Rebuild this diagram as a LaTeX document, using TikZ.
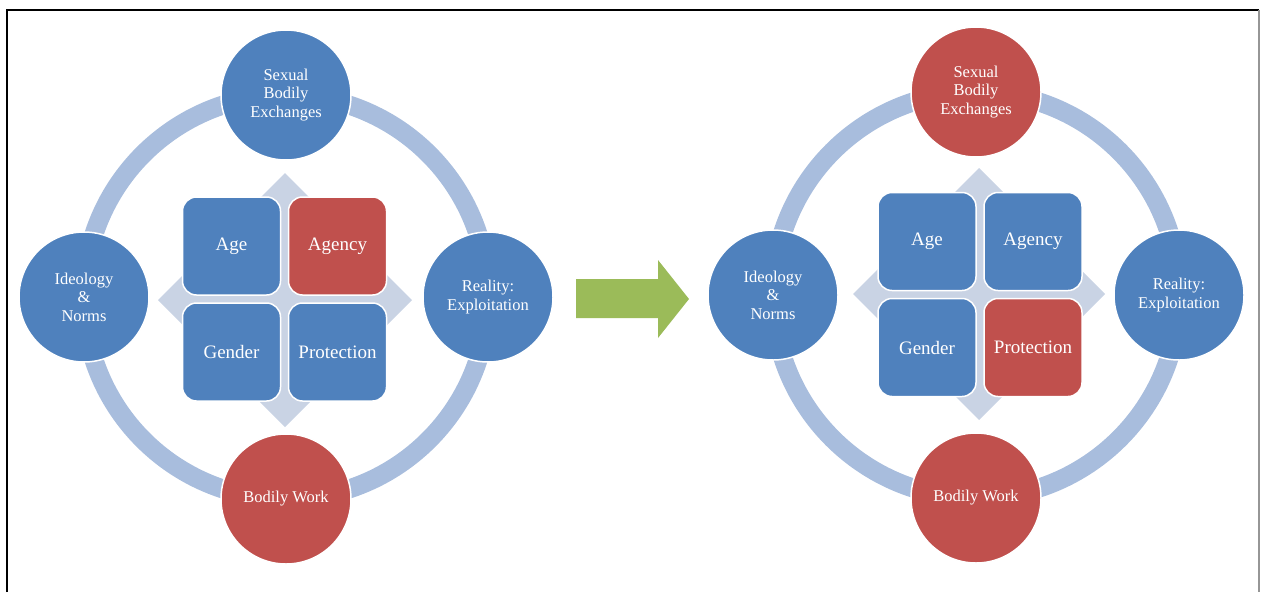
\documentclass[tikz,border=0pt]{standalone}
\usepackage{fontspec}
\setmainfont{Liberation Serif}
\definecolor{hubblue}{RGB}{79,129,189}
\definecolor{hubred}{RGB}{192,80,77}
\definecolor{ringblue}{RGB}{168,189,221}
\definecolor{crossgray}{RGB}{201,211,228}
\definecolor{shiftgreen}{RGB}{155,187,89}
\definecolor{framegray}{RGB}{150,150,150}
\begin{document}
\begin{tikzpicture}[x=1pt,y=-1pt,
  hub/.style={circle,draw=white,line width=1.5pt,minimum size=130pt,inner sep=0pt,
    text=white,align=center,font=\fontsize{16.5}{18.5}\selectfont},
  tile/.style={rectangle,rounded corners=14pt,draw=white,line width=1.5pt,
    minimum width=98pt,minimum height=98pt,inner sep=0pt,text=white,
    font=\fontsize{19}{21}\selectfont},
  ringband/.style={draw=ringblue,line width=19pt},
  crossback/.style={fill=crossgray},
  shiftarrow/.style={fill=shiftgreen}]
\useasboundingbox (0,0) rectangle (1261,592);

% frame
\draw[black,line width=1.2pt] (7,592) -- (7,10) -- (1259,10);
\draw[framegray,line width=1.2pt] (1259,10) -- (1259,592);

% ---------- first cycle ----------
\coordinate (LC) at (286,297);
\coordinate (LM) at (285,300);
\draw[ringband] (LC) circle (202pt);
\fill[crossback] ([shift={(0,-127)}]LM) -- ([shift={(127,0)}]LM)
  -- ([shift={(0,127)}]LM) -- ([shift={(-127,0)}]LM) -- cycle;

\node[tile,fill=hubblue] (lage)  at (231.5,246) {Age};
\node[tile,fill=hubred]  (lagen) at (337.5,246) {Agency};
\node[tile,fill=hubblue] (lgen)  at (231.5,352) {Gender};
\node[tile,fill=hubblue] (lpro)  at (337.5,352) {Protection};

\node[hub,fill=hubblue] (lsex) at (286,95)  {Sexual\\Bodily\\Exchanges};
\node[hub,fill=hubblue] (lreal) at (488,297) {Reality:\\Exploitation};
\node[hub,fill=hubred]  (lwork) at (286,499) {Bodily Work};
\node[hub,fill=hubblue] (lideo) at (84,297)  {Ideology\\\&\\Norms};

% ---------- shift arrow ----------
\fill[shiftarrow] (576,279) -- (658,279) -- (658,260) -- (689,299)
  -- (658,338) -- (658,318) -- (576,318) -- cycle;

% ---------- second cycle ----------
\coordinate (RC) at (976,295);
\coordinate (RM) at (979,294);
\draw[ringband] (RC) circle (203pt);
\fill[crossback] ([shift={(0,-126)}]RM) -- ([shift={(126,0)}]RM)
  -- ([shift={(0,126)}]RM) -- ([shift={(-126,0)}]RM) -- cycle;

\node[tile,fill=hubblue] (rage)  at (927,241.5)  {Age};
\node[tile,fill=hubblue] (ragen) at (1033,241.5) {Agency};
\node[tile,fill=hubblue] (rgen)  at (927,347.5)  {Gender};
\node[tile,fill=hubred]  (rpro)  at (1033,347.5) {Protection};

\node[hub,fill=hubred]  (rsex) at (976,92)   {Sexual\\Bodily\\Exchanges};
\node[hub,fill=hubblue] (rreal) at (1179,295) {Reality:\\Exploitation};
\node[hub,fill=hubred]  (rwork) at (976,498)  {Bodily Work};
\node[hub,fill=hubblue] (rideo) at (773,295)  {Ideology\\\&\\Norms};
\end{tikzpicture}
\end{document}
